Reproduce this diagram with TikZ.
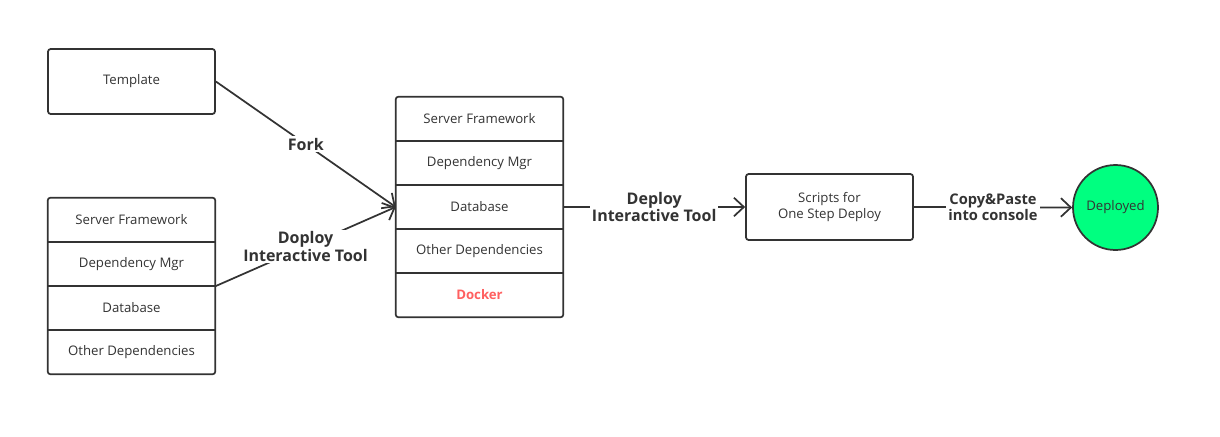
\documentclass[tikz,border=0pt]{standalone}
\usepackage{fontspec}
\setmainfont{Open Sans}
\usetikzlibrary{arrows.meta}
\definecolor{ink}{HTML}{333333}
\definecolor{dockerred}{HTML}{FF6060}
\definecolor{donegreen}{HTML}{00FF80}
\tikzset{
  cell/.style={minimum width=125.25pt, minimum height=33pt, inner sep=0pt, text=ink, font=\fontsize{9.9}{12}\selectfont},
  box/.style={cell, draw=ink, line width=1.3pt, rounded corners=2pt, align=center},
  frame/.style={draw=ink, line width=1.3pt, rounded corners=2pt},
  divider/.style={draw=ink, line width=1.3pt},
  arr/.style={draw=ink, line width=1.3pt, -{Straight Barb[length=7.5pt,width=14pt,line width=1.3pt]}},
  lab/.style={fill=white, inner sep=1.5pt, align=center, text=ink, font=\fontsize{12}{13}\selectfont\bfseries}
}
\begin{document}
\begin{tikzpicture}[x=0.75pt, y=-0.75pt]
\useasboundingbox (0,0) rectangle (1220,436);
% template and local stack
\node[box, minimum height=48.75pt] (tpl) at (131.5,81.5) {Template};
\foreach \t [count=\i] in {Server Framework, Dependency Mgr, Database, Other Dependencies}
  \node[cell] (l\i) at (131.5, 176+44*\i) {\t};
\draw[frame] (l1.north west) rectangle (l4.south east);
\foreach \i in {1,2,3}
  \draw[divider] (l\i.south west) -- (l\i.south east);
% packed stack
\foreach \t [count=\i] in {Server Framework, Dependency Mgr, Database, Other Dependencies}
  \node[cell] (m\i) at (479.5, 75+44*\i) {\t};
\node[cell, text=dockerred, font=\fontsize{9.9}{12}\selectfont\bfseries] (m5) at (479.5,295) {Docker};
\draw[frame] (m1.north west) rectangle (m5.south east);
\foreach \i in {1,2,3,4}
  \draw[divider] (m\i.south west) -- (m\i.south east);
% scripts and result
\node[box, minimum height=49.5pt] (scr) at (829.5,207) {Scripts for\\One Step Deploy};
\node[circle, draw=ink, line width=1.3pt, fill=donegreen, minimum size=63.75pt, inner sep=0pt, text=ink, font=\fontsize{9.9}{12}\selectfont] (done) at (1115.5,207.5) {Deployed};
% arrows
\draw[arr] (tpl.east) -- node[lab]{Fork} (m3.west);
\draw[arr] (l2.south east) -- node[lab]{Doploy\\Interactive Tool} (m3.west);
\draw[arr] (m3.east) -- node[lab]{Deploy\\Interactive Tool} (scr.west);
\draw[arr] (scr.east) -- node[lab, font=\fontsize{11}{11.5}\selectfont\bfseries]{Copy\&Paste\\into console} (done.west);
\end{tikzpicture}
\end{document}
